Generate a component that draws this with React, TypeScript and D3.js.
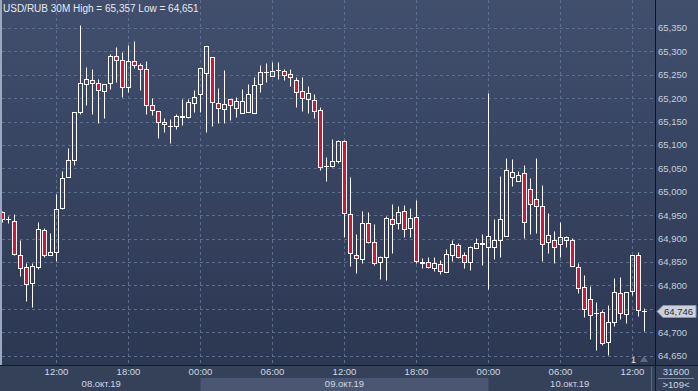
import * as d3 from 'd3';
import { useEffect } from 'react';

// 30-minute candles, USD/RUB, starting 08.10.2019 07:30
const startTime = Date.UTC(2019, 9, 8, 7, 30);
const stepMinutes = 30;

const opens = [
  64.957, 64.941, 64.937, 64.866, 64.839, 64.806, 64.84, 64.918, 64.866, 64.871,
  64.965, 65.031, 65.069, 65.17, 65.23, 65.238, 65.232, 65.215, 65.232, 65.291,
  65.281, 65.223, 65.28, 65.271, 65.262, 65.185, 65.172, 65.149, 65.14, 65.141,
  65.159, 65.16, 65.189, 65.208, 65.253, 65.287, 65.189, 65.176, 65.198, 65.178,
  65.168, 65.171, 65.169, 65.23, 65.256, 65.248, 65.26, 65.258, 65.252, 65.239,
  65.215, 65.199, 65.196, 65.175, 65.055, 65.055, 65.066, 65.109, 64.952, 64.866,
  64.856, 64.933, 64.892, 64.849, 64.86, 64.941, 64.933, 64.958, 64.922, 64.946,
  64.851, 64.849, 64.837, 64.846, 64.829, 64.866, 64.886, 64.865, 64.849, 64.879,
  64.889, 64.883, 64.881, 64.898, 64.906, 65.032, 65.024, 65.04, 65.007, 64.985,
  64.97, 64.893, 64.897, 64.888, 64.896, 64.897, 64.839, 64.796, 64.77, 64.742,
  64.743, 64.678, 64.722, 64.783, 64.738, 64.787, 64.865, 64.746,
];
const highs = [
  64.959, 64.948, 64.952, 64.897, 64.847, 64.847, 64.935, 64.923, 64.913, 64.995,
  65.045, 65.093, 65.171, 65.357, 65.266, 65.262, 65.24, 65.23, 65.294, 65.309,
  65.298, 65.314, 65.322, 65.275, 65.28, 65.2, 65.172, 65.157, 65.155, 65.166,
  65.198, 65.199, 65.218, 65.264, 65.312, 65.287, 65.221, 65.26, 65.199, 65.203,
  65.219, 65.23, 65.246, 65.272, 65.275, 65.278, 65.278, 65.263, 65.262, 65.246,
  65.245, 65.226, 65.21, 65.182, 65.074, 65.112, 65.111, 65.111, 65.031, 64.91,
  64.959, 64.956, 64.931, 64.863, 64.948, 64.975, 64.97, 64.972, 64.966, 64.982,
  64.858, 64.86, 64.86, 64.854, 64.878, 64.898, 64.89, 64.871, 64.885, 64.901,
  64.91, 65.212, 64.941, 65.034, 65.072, 65.07, 65.044, 65.057, 65.029, 65.072,
  65.015, 64.954, 64.916, 64.935, 64.905, 64.901, 64.847, 64.822, 64.799, 64.765,
  64.747, 64.758, 64.815, 64.819, 64.785, 64.865, 64.871, 64.751,
];
const lows = [
  64.935, 64.933, 64.865, 64.82, 64.767, 64.754, 64.835, 64.861, 64.865, 64.852,
  64.963, 65.031, 65.057, 65.166, 65.185, 65.167, 65.146, 65.158, 65.22, 65.235,
  65.203, 65.213, 65.264, 65.218, 65.167, 65.164, 65.114, 65.128, 65.105, 65.134,
  65.143, 65.158, 65.171, 65.171, 65.128, 65.141, 65.148, 65.146, 65.153, 65.159,
  65.168, 65.171, 65.169, 65.214, 65.234, 65.248, 65.241, 65.239, 65.227, 65.182,
  65.173, 65.168, 65.157, 65.047, 65.024, 65.052, 65.061, 64.903, 64.842, 64.826,
  64.848, 64.89, 64.844, 64.814, 64.812, 64.87, 64.92, 64.904, 64.904, 64.847,
  64.837, 64.838, 64.831, 64.824, 64.829, 64.852, 64.858, 64.837, 64.833, 64.879,
  64.844, 64.792, 64.856, 64.861, 64.906, 65.012, 65.024, 64.902, 64.91, 64.913,
  64.853, 64.87, 64.848, 64.861, 64.883, 64.841, 64.784, 64.732, 64.685, 64.663,
  64.673, 64.651, 64.714, 64.728, 64.719, 64.78, 64.735, 64.703,
];
const closes = [
  64.942, 64.942, 64.868, 64.837, 64.804, 64.842, 64.92, 64.866, 64.871, 64.963,
  65.029, 65.067, 65.17, 65.232, 65.24, 65.232, 65.217, 65.23, 65.29, 65.281,
  65.224, 65.279, 65.272, 65.262, 65.185, 65.174, 65.15, 65.144, 65.141, 65.161,
  65.161, 65.192, 65.202, 65.264, 65.312, 65.191, 65.178, 65.187, 65.185, 65.194,
  65.194, 65.209, 65.228, 65.255, 65.257, 65.258, 65.261, 65.249, 65.245, 65.214,
  65.2, 65.211, 65.172, 65.054, 65.056, 65.066, 65.109, 64.954, 64.869, 64.858,
  64.933, 64.892, 64.847, 64.86, 64.945, 64.931, 64.956, 64.921, 64.945, 64.853,
  64.847, 64.839, 64.847, 64.831, 64.867, 64.888, 64.861, 64.849, 64.881, 64.89,
  64.89, 64.905, 64.896, 64.942, 65.047, 65.042, 65.036, 64.936, 64.975, 64.97,
  64.888, 64.908, 64.881, 64.904, 64.903, 64.841, 64.794, 64.749, 64.737, 64.742,
  64.676, 64.721, 64.785, 64.74, 64.785, 64.865, 64.747, 64.746,
];

const priceTicks = [
  64.65, 64.7, 64.75, 64.8, 64.85, 64.9, 64.95, 65.0, 65.05, 65.1, 65.15, 65.2, 65.25, 65.3, 65.35,
];
const monthsRu = ['янв', 'фев', 'мар', 'апр', 'май', 'июн', 'июл', 'авг', 'сен', 'окт', 'ноя', 'дек'];
const titleText = 'USD/RUB 30M';
const volumeText = '31600';
const barsText = '>109<';

const width = 698;
const height = 391;
const plotLeft = 2;
const plotRight = 655;
const plotBottom = 365;
const font = 'Liberation Sans, Arial, sans-serif';

const fmtPrice = (v: number) => d3.format('.3f')(v).replace('.', ',');

export default function App() {
  useEffect(() => {
    document.body.style.margin = '0';
  }, []);

  const candles = opens.map((o, i) => ({
    t: new Date(startTime + i * stepMinutes * 60000),
    o,
    h: highs[i],
    l: lows[i],
    c: closes[i],
  }));

  const x = d3
    .scaleUtc()
    .domain([candles[0].t, candles[candles.length - 1].t])
    .range([2.5, 2.5 + 6 * (candles.length - 1)]);

  const y = d3.scaleLinear().domain([64.65, 65.35]).range([355.6, 28]);

  const timeTicks = x.ticks(d3.utcHour.every(6)!);
  const dayStarts = timeTicks.filter((d) => d.getUTCHours() === 0);
  const bands = [plotLeft, ...dayStarts.map((d) => x(d)), 651];
  const dayDates = [candles[0].t, ...dayStarts];

  const hi = d3.max(highs)!;
  const lo = d3.min(lows)!;
  const last = closes[closes.length - 1];
  const lastY = Math.round(y(last)) + 0.5;

  return (
    <svg width={width} height={height} style={{ display: 'block', position: 'absolute', left: 0, top: 0 }} fontFamily={font}>
      <defs>
        <linearGradient id="bg" x1="0" y1="0" x2="0" y2="1">
          <stop offset="0%" stopColor="#414f6d" />
          <stop offset="100%" stopColor="#2c3752" />
        </linearGradient>
        <clipPath id="plot">
          <rect x={plotLeft} y={0} width={plotRight - plotLeft} height={plotBottom} />
        </clipPath>
      </defs>
      <rect x={0} y={0} width={width} height={plotBottom} fill="url(#bg)" />
      <rect x={0} y={0} width={2} height={height} fill="#9aa8c0" />

      {/* grid */}
      <g stroke="#5d6d8d" strokeDasharray="3 3" strokeWidth={1}>
        {priceTicks.map((v) => (
          <line key={v} x1={plotLeft} x2={plotRight} y1={Math.round(y(v)) + 0.5} y2={Math.round(y(v)) + 0.5} />
        ))}
        {timeTicks.map((d) => (
          <line key={+d} x1={x(d)} x2={x(d)} y1={0} y2={plotBottom} />
        ))}
      </g>

      {/* candles */}
      <g clipPath="url(#plot)">
        {candles.map((d) => {
          const cx = x(d.t);
          const up = d.c >= d.o;
          const top = Math.round(y(Math.max(d.o, d.c))) + 0.5;
          const bot = Math.round(y(Math.min(d.o, d.c))) + 0.5;
          const yh = Math.round(y(d.h)) + 0.5;
          const yl = Math.round(y(d.l)) + 0.5;
          return (
            <g key={+d.t}>
              <line x1={cx} x2={cx} y1={yh} y2={top} stroke="#fff" />
              <line x1={cx} x2={cx} y1={bot} y2={yl} stroke="#fff" />
              {bot - top < 1 ? (
                <line x1={cx - 2.5} x2={cx + 2.5} y1={top} y2={top} stroke="#fff" />
              ) : (
                <rect
                  x={cx - 2}
                  y={top}
                  width={4}
                  height={bot - top}
                  fill={up ? 'none' : '#d0173b'}
                  stroke="#fff"
                  strokeWidth={1}
                />
              )}
            </g>
          );
        })}
      </g>

      {/* title */}
      <text x={3} y={11.5} fontSize={10} fill="#e6eaf0">
        {`${titleText}  High = ${fmtPrice(hi)}  Low = ${fmtPrice(lo)}`}
      </text>

      {/* right axis */}
      <line x1={plotRight + 0.5} x2={plotRight + 0.5} y1={0} y2={height} stroke="#0e1320" />
      <g fontSize={9.5} fill="#c6cedc">
        {priceTicks
          .filter((v) => Math.abs(y(v) - lastY) > 10)
          .map((v) => (
            <text key={v} x={658} y={y(v)} dy="0.35em">
              {fmtPrice(v)}
            </text>
          ))}
      </g>
      <path
        d={`M657,${lastY} L663,${lastY - 6} L696,${lastY - 6} L696,${lastY + 6} L663,${lastY + 6} Z`}
        fill="#cdd2da"
        stroke="#8c95a6"
      />
      <text x={664} y={lastY} dy="0.35em" fontSize={9.5} fill="#2a2f3a">
        {fmtPrice(last)}
      </text>

      {/* marker */}
      <text x={631} y={363} fontSize={9} fill="#e6eaf0">1</text>
      <path d="M640,362 L644,356 L648,362 Z" fill="#5f6b84" />

      {/* bottom axis */}
      <rect x={0} y={plotBottom} width={width} height={height - plotBottom} fill="#354059" />
      {dayDates.map((d, i) =>
        i % 2 === 1 ? (
          <rect key={+d} x={bands[i]} y={378} width={bands[i + 1] - bands[i]} height={height - 378} fill="#4a5672" />
        ) : null,
      )}
      <line x1={0} x2={width} y1={plotBottom + 0.5} y2={plotBottom + 0.5} stroke="#121826" />
      <line x1={plotRight + 0.5} x2={plotRight + 0.5} y1={plotBottom} y2={height} stroke="#121826" />
      <line x1={651.5} x2={651.5} y1={plotBottom + 2} y2={height} stroke="#5d6a84" />
      <g fontSize={9.5} fill="#d0d7e3" textAnchor="middle">
        {timeTicks.map((d) => (
          <text key={+d} x={x(d)} y={375}>
            {d3.utcFormat('%H:%M')(d)}
          </text>
        ))}
        {dayDates.map((d, i) => (
          <text key={+d} x={(bands[i] + bands[i + 1]) / 2} y={387}>
            {`${d3.utcFormat('%d')(d)}.${monthsRu[d.getUTCMonth()]}.${d3.utcFormat('%y')(d)}`}
          </text>
        ))}
        <text x={676} y={375}>{volumeText}</text>
        <text x={676} y={388}>{barsText}</text>
      </g>
      <line x1={658} x2={694} y1={378.5} y2={378.5} stroke="#7d8aa3" />
    </svg>
  );
}
